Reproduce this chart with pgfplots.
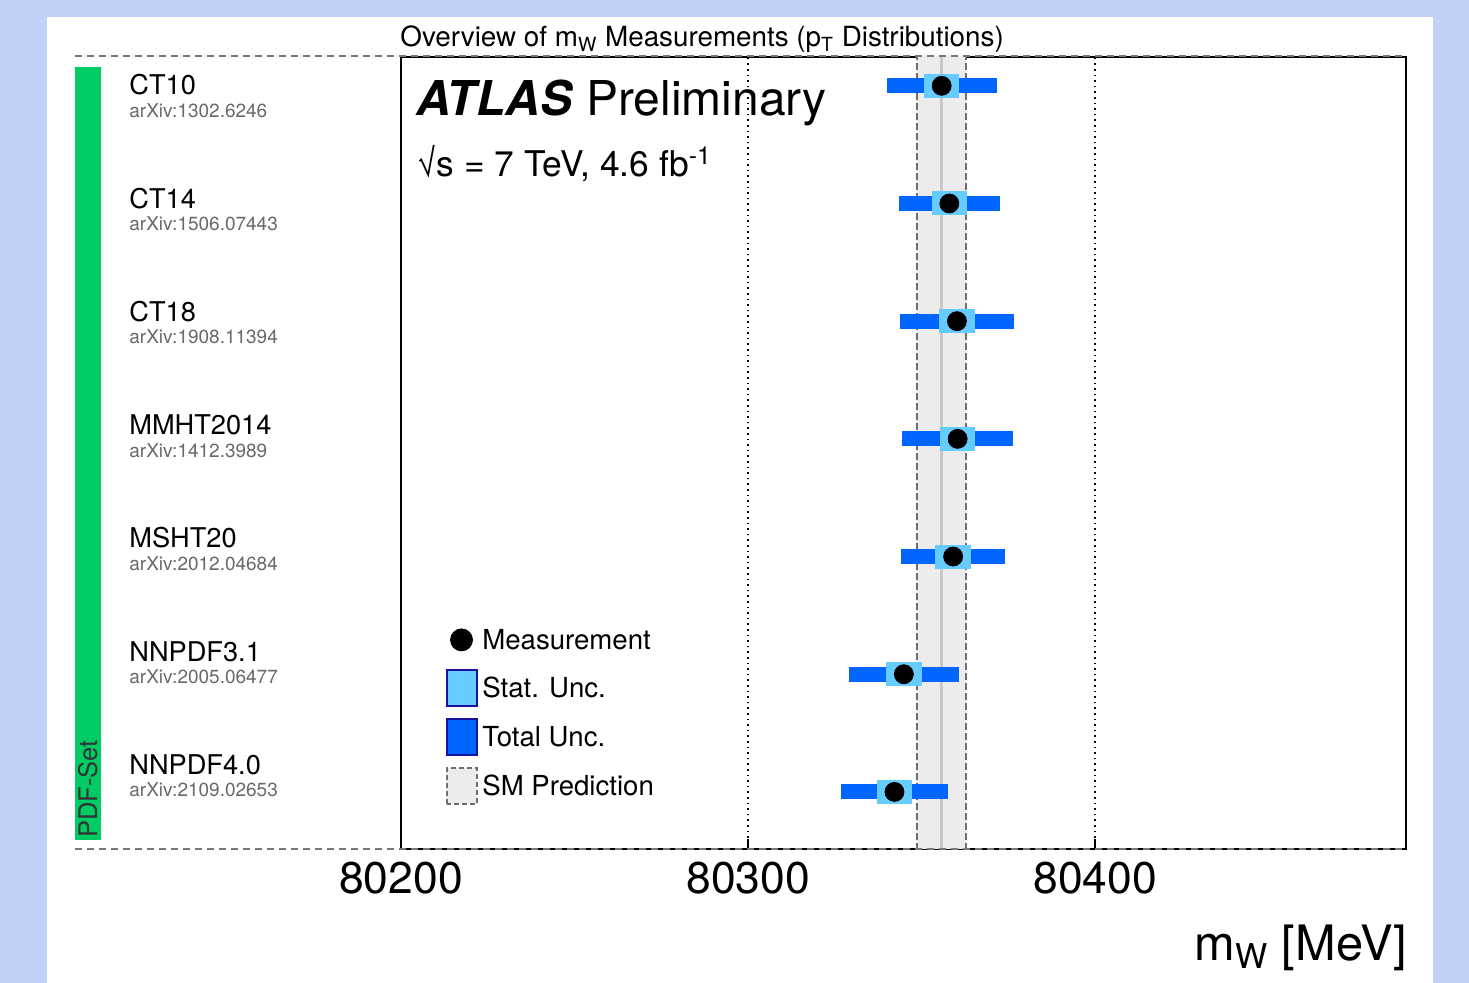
\documentclass[border=0pt]{standalone}
\usepackage{pgfplots}
\pgfplotsset{compat=1.18}
\usepackage{pgfplotstable}
\usepackage{fontspec}
\setmainfont{TeX Gyre Heros}

\definecolor{bgblue}{RGB}{193,208,246}
\definecolor{pdfgreen}{RGB}{0,204,102}
\definecolor{totblue}{RGB}{0,102,255}
\definecolor{statblue}{RGB}{102,204,255}
\definecolor{smfill}{RGB}{236,236,236}
\definecolor{smedge}{RGB}{110,110,110}
\definecolor{smline}{RGB}{200,200,200}
\definecolor{arxivgray}{RGB}{105,105,105}
\definecolor{legedge}{RGB}{20,20,160}
\definecolor{framegray}{RGB}{120,120,120}

% y: row position (CT10 top = 6), x: m_W, stat and total half-widths in MeV
\pgfplotstableread{
y x stat tot
6 80355.8 5.1 15.8
5 80358.0 5.1 14.5
4 80360.2 5.1 16.4
3 80360.4 5.1 16.0
2 80359.1 5.1 14.9
1 80344.9 5.1 15.8
0 80342.2 5.1 15.5
}\mwdata

\begin{document}
\begin{tikzpicture}
\fill[bgblue] (0,0) rectangle (734.5pt,491.5pt);
\begin{scope}[yshift=491.5pt, x=0.5pt, y=-0.5pt]
  \fill[white] (47,17) rectangle (1433,983);
  \fill[pdfgreen] (75,67) rectangle (101,840);
  \node[rotate=90, anchor=base west, inner sep=0pt, text=black!80,
        font=\fontsize{12.8}{15}\selectfont] at (97,838) {PDF-Set};
  % PDF set labels
  \foreach \nm/\ax/\yb in {CT10/1302.6246/95, CT14/1506.07443/208.2,
      CT18/1908.11394/321.4, MMHT2014/1412.3989/434.7,
      MSHT20/2012.04684/547.9, NNPDF3.1/2005.06477/661.1,
      NNPDF4.0/2109.02653/774.3}{
    \node[anchor=base west, inner sep=0pt, font=\fontsize{13.6}{16}\selectfont]
      at (129,\yb) {\nm};
    \node[anchor=base west, inner sep=0pt, text=arxivgray,
          font=\fontsize{9.5}{11}\selectfont] at (129,\yb+22.5) {arXiv:\ax};
  }
  \node[anchor=base west, inner sep=0pt, font=\fontsize{13.9}{16}\selectfont]
    at (400,47) {Overview of m\textsubscript{W} Measurements (p\textsubscript{T} Distributions)};
  \node[anchor=base west, inner sep=0pt, font=\fontsize{24}{28}\selectfont]
    at (416,116) {\textbf{\textit{ATLAS}} Preliminary};
  \node[anchor=base west, inner sep=0pt, font=\fontsize{17.7}{21}\selectfont]
    at (417,177) {√s = 7 TeV, 4.6 fb\textsuperscript{-1}};
  \node[anchor=base east, inner sep=0pt, font=\fontsize{24.4}{29}\selectfont]
    at (1407,961) {m\textsubscript{W} [MeV]};
\end{scope}

\begin{axis}[
  at={(200.5pt,67pt)}, anchor=south west,
  scale only axis, width=502.5pt, height=396pt,
  xmin=80200, xmax=80489.6, ymin=-0.485, ymax=6.245,
  axis line style={line width=1pt},
  scaled x ticks=false,
  xtick={80200,80300,80400}, xticklabels={80200,80300,80400},
  ytick=\empty, xtick pos=bottom, tick align=inside,
  major tick length=5pt, tick style={line width=1pt, black},
  xmajorgrids, grid style={black, line width=0.8pt, dash pattern=on 0.8pt off 2pt},
  xticklabel style={font=\fontsize{22.2}{26}\selectfont, inner sep=0pt, yshift=-6.5pt},
]
% SM prediction band
\addplot[draw=none, fill=smfill] coordinates
  {(80348.8,-1) (80348.8,8) (80362.7,8) (80362.7,-1)} -- cycle;
\addplot[smline, line width=1.65pt] coordinates {(80355.8,-1) (80355.8,8)};
\addplot[smedge, line width=1pt, dash pattern=on 3.3pt off 1.7pt]
  coordinates {(80348.8,-1) (80348.8,8)};
\addplot[smedge, line width=1pt, dash pattern=on 3.3pt off 1.7pt]
  coordinates {(80362.7,-1) (80362.7,8)};
% total uncertainty
\addplot[only marks, mark=none,
  error bars/.cd, x dir=both, x explicit, error mark=none,
  error bar style={draw=totblue, line width=7.5pt, solid}]
  table[x=x, y=y, x error=tot] {\mwdata};
% stat uncertainty
\addplot[only marks, mark=none,
  error bars/.cd, x dir=both, x explicit, error mark=none,
  error bar style={draw=statblue, line width=12pt, solid}]
  table[x=x, y=y, x error=stat] {\mwdata};
% measurement
\addplot[only marks, mark=*, mark size=4.75pt,
  mark options={fill=black, draw=black}] table[x=x, y=y] {\mwdata};

% legend keys (drawn as plots in axis coordinates)
\addplot[only marks, mark=*, mark size=5.5pt, mark options={fill=black, draw=black}]
  coordinates {(80217.44,1.2918)};
\addplot[fill=statblue, draw=legedge, line width=0.75pt] coordinates
  {(80213.26,0.7309) (80213.26,1.0368) (80221.90,1.0368) (80221.90,0.7309)} -- cycle;
\addplot[fill=totblue, draw=legedge, line width=0.75pt] coordinates
  {(80213.26,0.3144) (80213.26,0.6204) (80221.90,0.6204) (80221.90,0.3144)} -- cycle;
\addplot[fill=smfill, draw=smedge, line width=0.75pt, dash pattern=on 2.5pt off 1.5pt]
  coordinates {(80213.26,-0.1020) (80213.26,0.2040) (80221.90,0.2040) (80221.90,-0.1020)} -- cycle;
\begin{scope}[every node/.style={anchor=west, inner sep=0pt, font=\fontsize{13.8}{16}\selectfont}]
  \node at (axis cs:80223.34,1.2918) {Measurement};
  \node at (axis cs:80223.34,0.8838) {Stat. Unc.};
  \node at (axis cs:80223.34,0.4674) {Total Unc.};
  \node at (axis cs:80223.34,0.0510) {SM Prediction};
\end{scope}
\end{axis}

\begin{scope}[yshift=491.5pt, x=0.5pt, y=-0.5pt]
  \draw[framegray, line width=1pt, dash pattern=on 3.5pt off 2.5pt] (75,56) -- (1406,56);
  \draw[framegray, line width=1pt, dash pattern=on 3.5pt off 2.5pt] (75,849) -- (1406,849);
\end{scope}
\pgfresetboundingbox
\path (0,0) rectangle (734.5pt,491.5pt);
\end{tikzpicture}
\end{document}
